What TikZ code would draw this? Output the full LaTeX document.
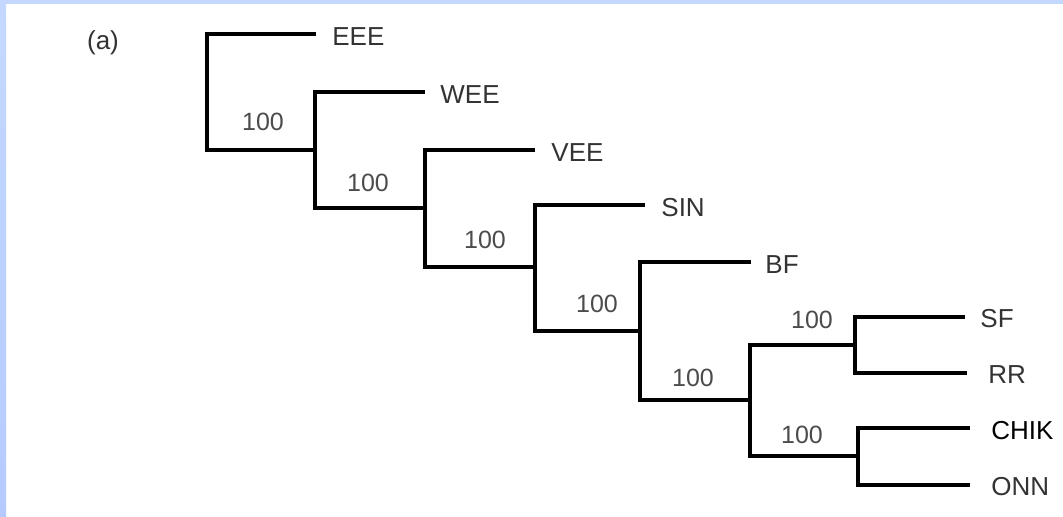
\documentclass[tikz,border=0pt]{standalone}
\usepackage{fontspec}
\setmainfont{Liberation Sans}
\begin{document}
\begin{tikzpicture}[x=0.5pt,y=-0.5pt,
  branch/.style={line width=2pt, black, line join=miter},
  leaf/.style={anchor=west, inner sep=0pt, font=\fontsize{13}{15}\selectfont, text=black!80},
  boot/.style={inner sep=0pt, font=\fontsize{12.5}{15}\selectfont, text=black!70},
]
\definecolor{frameblue}{RGB}{196,216,255}
\definecolor{frameblue2}{RGB}{182,202,255}
\useasboundingbox (0,0) rectangle (1063,516);
\fill[white] (0,0) rectangle (1063,516);
\shade[top color=frameblue, bottom color=frameblue2] (0,0) rectangle (6,516);
\fill[frameblue] (0,0) rectangle (1063,4);

% internal nodes
\coordinate (n0) at (207,92);
\coordinate (n1) at (315,150);
\coordinate (n2) at (425,208);
\coordinate (n3) at (535,267);
\coordinate (n4) at (640,331);
\coordinate (n5) at (750,400);
\coordinate (n6) at (855,345);
\coordinate (n7) at (858,456);
% leaf tips
\coordinate (tEEE) at (316,34);
\coordinate (tWEE) at (425,92);
\coordinate (tVEE) at (535,150);
\coordinate (tSIN) at (645,205);
\coordinate (tBF) at (751,262);
\coordinate (tSF) at (965,317);
\coordinate (tRR) at (967,373);
\coordinate (tCHIK) at (970,428);
\coordinate (tONN) at (970,485);

\draw[branch] (tEEE) -| (n0) |- (n1);
\draw[branch] (tWEE) -| (n1) |- (n2);
\draw[branch] (tVEE) -| (n2) |- (n3);
\draw[branch] (tSIN) -| (n3) |- (n4);
\draw[branch] (tBF) -| (n4) |- (n5);
\draw[branch] (n6) -| (n5) |- (n7);
\draw[branch] (tSF) -| (n6) |- (tRR);
\draw[branch] (tCHIK) -| (n7) |- (tONN);

% leaf labels
\node[leaf] (EEE) at (332,37) {EEE};
\node[leaf] (WEE) at (440,95) {WEE};
\node[leaf] (VEE) at (551,153) {VEE};
\node[leaf] (SIN) at (661,208) {SIN};
\node[leaf] (BF) at (765,265) {BF};
\node[leaf] (SF) at (980,319) {SF};
\node[leaf] (RR) at (988,375) {RR};
\node[leaf, text=black] (CHIK) at (991,431) {CHIK};
\node[leaf] (ONN) at (991,487) {ONN};

% bootstrap values
\node[boot] (b1) at (263,122) {100};
\node[boot] (b2) at (368,183) {100};
\node[boot] (b3) at (485,240) {100};
\node[boot] (b4) at (597,304) {100};
\node[boot] (b5) at (693,378) {100};
\node[boot] (b6) at (812,320) {100};
\node[boot] (b7) at (802,435) {100};

\node[leaf, anchor=center] (panel) at (103,43) {(a)};
\end{tikzpicture}
\end{document}
